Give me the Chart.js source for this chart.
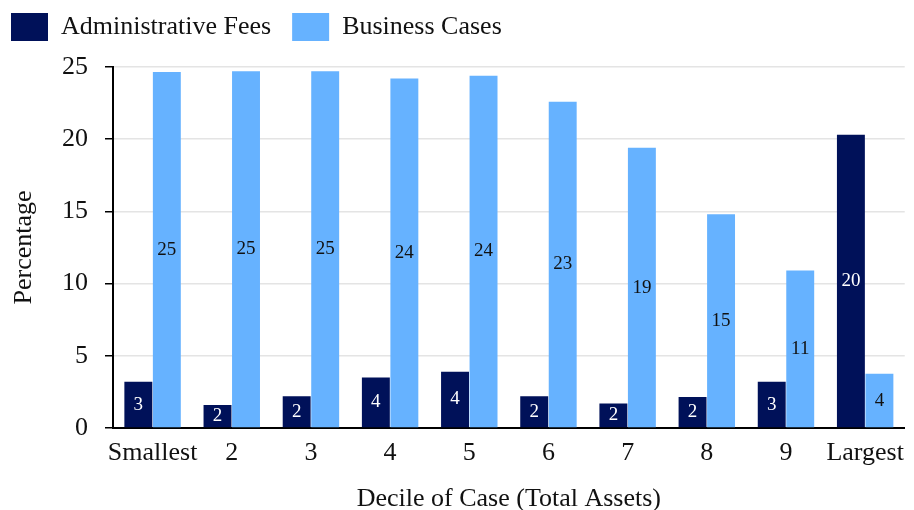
<!DOCTYPE html>
<html>
<head>
<meta charset="utf-8">
<script src="https://cdn.jsdelivr.net/npm/chart.js@4/dist/chart.umd.min.js"></script>
<style>
    html, body { margin: 0; padding: 0; background: #ffffff; }
    #wrap { width: 914px; height: 510px; position: relative; }
</style>
</head>
<body>
<div id="wrap"><canvas id="feesChart"></canvas></div>
<script>
// Admin fees vs business cases by asset decile
const deciles = ['Smallest', '2', '3', '4', '5', '6', '7', '8', '9', 'Largest'];
const adminFees = [3.2, 1.6, 2.2, 3.5, 3.9, 2.2, 1.7, 2.15, 3.2, 20.3];
const businessCases = [24.65, 24.7, 24.7, 24.2, 24.4, 22.6, 19.4, 14.8, 10.9, 3.75];
const yTicks = [0, 5, 10, 15, 20, 25];

const serif = '"Liberation Serif", "DejaVu Serif", serif';

// writes the rounded value in the middle of each bar
const barValueLabels = {
    id: 'barValueLabels',
    afterDatasetsDraw: function(chart) {
        const ctx = chart.ctx;
        ctx.save();
        ctx.font = '19px ' + serif;
        ctx.textAlign = 'center';
        ctx.textBaseline = 'middle';
        chart.data.datasets.forEach(function(ds, i) {
            const meta = chart.getDatasetMeta(i);
            meta.data.forEach(function(bar, j) {
                ctx.fillStyle = ds.labelColor;
                ctx.fillText(Math.round(ds.data[j]), bar.x, (bar.y + bar.base) / 2);
            });
        });
        ctx.restore();
    }
};

// extra space under the legend row
const legendGap = {
    id: 'legendGap',
    beforeLayout: function(chart) {
        const legend = chart.legend;
        if (!legend || legend._gapPatched) return;
        const fit = legend.fit;
        legend.fit = function() {
            fit.call(this);
            this.height += 16;
        };
        legend._gapPatched = true;
    }
};

document.addEventListener('DOMContentLoaded', function() {
    const ctx = document.getElementById('feesChart');
    new Chart(ctx, {
        type: 'bar',
        data: {
            labels: deciles,
            datasets: [{
                label: 'Administrative Fees',
                data: adminFees,
                backgroundColor: '#001159',
                labelColor: '#ffffff'
            }, {
                label: 'Business Cases',
                data: businessCases,
                backgroundColor: '#66b2ff',
                labelColor: '#111111'
            }]
        },
        options: {
            responsive: true,
            maintainAspectRatio: false,
            animation: false,
            layout: {
                padding: { left: -10, right: 2, top: -8, bottom: 0 }
            },
            datasets: {
                bar: {
                    categoryPercentage: 0.72,
                    barPercentage: 0.98
                }
            },
            plugins: {
                legend: {
                    position: 'top',
                    align: 'start',
                    labels: {
                        boxWidth: 37,
                        boxHeight: 28,
                        padding: 21,
                        color: '#111111',
                        font: { family: serif, size: 26 }
                    }
                },
                tooltip: { enabled: false }
            },
            scales: {
                y: {
                    min: 0,
                    max: 25,
                    afterBuildTicks: function(axis) {
                        axis.ticks = yTicks.map(function(v) { return { value: v }; });
                    },
                    afterFit: function(axis) {
                        axis.width = 123;
                    },
                    title: {
                        display: true,
                        text: 'Percentage',
                        color: '#111111',
                        padding: { top: 21, bottom: 0 },
                        font: { family: serif, size: 26, lineHeight: 1 }
                    },
                    ticks: {
                        color: '#111111',
                        padding: 17,
                        font: { family: serif, size: 26 }
                    },
                    grid: {
                        color: '#e4e4e4',
                        lineWidth: 1.5,
                        tickColor: '#000000',
                        tickLength: 8
                    },
                    border: { color: '#000000', width: 2 }
                },
                x: {
                    afterFit: function(axis) {
                        axis.height = 82;
                    },
                    title: {
                        display: true,
                        text: 'Decile of Case (Total Assets)',
                        color: '#111111',
                        padding: { top: 0, bottom: -2 },
                        font: { family: serif, size: 26, lineHeight: 1 }
                    },
                    ticks: {
                        color: '#111111',
                        autoSkip: false,
                        maxRotation: 0,
                        padding: 10,
                        font: { family: serif, size: 26 }
                    },
                    grid: { display: false, drawTicks: false },
                    border: { color: '#000000', width: 2 }
                }
            }
        },
        plugins: [barValueLabels, legendGap]
    });
});
</script>
</body>
</html>
